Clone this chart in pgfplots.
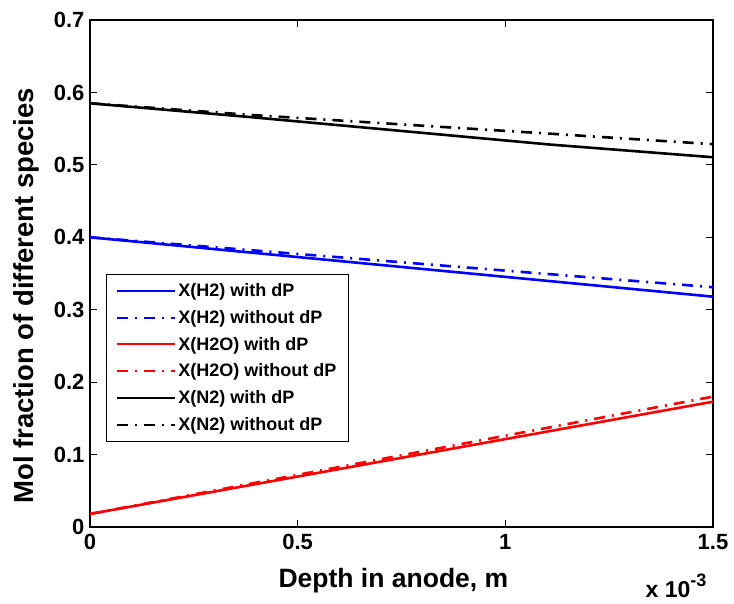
\documentclass[border=0pt]{standalone}
\usepackage{pgfplots}
\pgfplotsset{compat=1.18}
\usepackage{fontspec}
\setmainfont{Liberation Sans}
\begin{document}
\begin{tikzpicture}
\pgfplotsset{ddot/.style={dash pattern=on 11pt off 7pt on 2pt off 7pt}}
\begin{axis}[
  name=ax,
  scale only axis,
  width=623pt, height=507pt,
  xmin=0, xmax=0.0015, ymin=0, ymax=0.7,
  xtick={0,0.0005,0.001,0.0015},
  xticklabels={0,0.5,1,1.5},
  scaled x ticks=false,
  ytick={0,0.1,0.2,0.3,0.4,0.5,0.6,0.7},
  yticklabels={0,0.1,0.2,0.3,0.4,0.5,0.6,0.7},
  tick align=inside,
  major tick length=7pt,
  axis line style={line width=1.2pt},
  every tick/.style={line width=1.2pt, black},
  tick label style={font=\bfseries\fontsize{22}{22}\selectfont},
  xticklabel style={yshift=-4pt},
  yticklabel style={xshift=-2pt},
  xlabel={\bfseries Depth in anode, m},
  ylabel={\bfseries Mol fraction of different species},
  xlabel style={font=\bfseries\fontsize{26.5}{26.5}\selectfont,
    at={(axis description cs:0.487,0)}, anchor=base, yshift=-61pt},
  ylabel style={font=\bfseries\fontsize{27.5}{27.5}\selectfont,
    at={(axis description cs:0,0.456)}, anchor=center, yshift=64pt},
  legend style={at={(axis description cs:0.0257,0.1677)}, anchor=south west,
    font=\bfseries\fontsize{18}{18}\selectfont, draw=black, line width=0.8pt,
    row sep=8.2pt, inner xsep=10pt, inner ysep=7.7pt, cells={anchor=west}},
  legend image code/.code={\draw[#1, line width=2pt] (0pt,0pt) -- (58pt,0pt);},
  legend cell align=left,
]
\addplot[blue, line width=2.6pt] coordinates {(0,0.400) (0.000385,0.379) (0.0015,0.318)};
\addlegendentry{X(H2) with dP}
\addplot[blue, line width=2.6pt, ddot] coordinates {(0,0.400) (0.0015,0.331)};
\addlegendentry{X(H2) without dP}
\addplot[red, line width=2.6pt] coordinates {(0,0.018) (0.0015,0.173)};
\addlegendentry{X(H2O) with dP}
\addplot[red, line width=2.6pt, ddot] coordinates {(0,0.018) (0.0015,0.180)};
\addlegendentry{X(H2O) without dP}
\addplot[black, line width=2.6pt] coordinates {(0,0.585) (0.000385,0.566) (0.001108,0.528) (0.0015,0.5105)};
\addlegendentry{X(N2) with dP}
\addplot[black, line width=2.6pt, ddot] coordinates {(0,0.585) (0.000385,0.569) (0.001108,0.543) (0.0015,0.5285)};
\addlegendentry{X(N2) without dP}
\end{axis}
\node[font=\bfseries\fontsize{23}{23}\selectfont, anchor=base east] at ([xshift=-3pt,yshift=-71pt]ax.south east) {x 10\raisebox{11pt}{\fontsize{18}{18}\selectfont -3}};
\path ([xshift=-90pt,yshift=-77pt]ax.south west) rectangle ([xshift=21pt,yshift=20pt]ax.north east);
\end{tikzpicture}
\end{document}
